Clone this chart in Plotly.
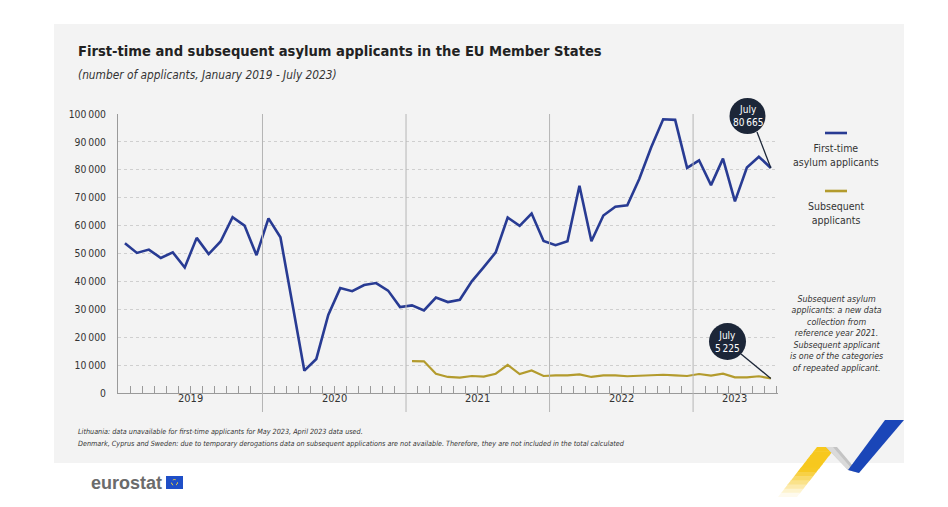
import plotly.graph_objects as go

# ---------------- data ----------------
first_time = [53700, 50200, 51400, 48400, 50400, 45000, 55600, 49800, 54300, 63000, 60000, 49400,
              62600, 55800, 32000, 8000, 12200, 28000, 37600, 36500, 38700, 39400, 36700, 30800,
              31400, 29600, 34200, 32600, 33400, 40000, 45100, 50400, 62900, 59900, 64300, 54500,
              53000, 54400, 74300, 54400, 63600, 66800, 67300, 76700, 88100, 98100, 97900, 80700,
              83400, 74500, 84000, 68700, 80800, 84700, 80665]
subsequent = [None] * 24 + [11450, 11350, 6900, 5750, 5500, 6100, 5850, 6900, 10100, 6800, 8100, 6100,
                            6300, 6300, 6700, 5750, 6300, 6300, 6000, 6200, 6550, 6550, 6300, 6100,
                            6800, 6200, 6900, 5600, 5600, 6000, 5225]
years = ["2019", "2020", "2021", "2022", "2023"]
year_centers = [5.5, 17.5, 29.5, 41.5, 51]
year_bounds = [11.5, 23.5, 35.5, 47.5]
y_ticks = list(range(0, 100001, 10000))
y_tick_text = ["0"] + [f"{v//1000}\u2009000" for v in y_ticks[1:]]

x_idx = list(range(len(first_time)))

# ---------------- geometry helpers (reference pixel coords) ----------------
OFF = 8                      # page body margin
W, H = 948 - OFF, 507 - OFF
L, R, T, B = 118, 778, 114, 393
XMIN, XMAX = -0.58, 54.6

def pxp(px):
    return (px - L) / (R - L)

def pyp(py):
    return (B - py) / (B - T)

def px2x(px):
    return XMIN + (px - L) / (R - L) * (XMAX - XMIN)

def py2y(py):
    return (B - py) / (B - T) * 100000

def path(points):
    return "M " + " L ".join(f"{pxp(a):.5f},{pyp(b):.5f}" for a, b in points) + " Z"

FONT = "DejaVu Sans Condensed, Roboto, sans-serif"
BLUE = "#283b93"
GOLD = "#b39b2d"
DARK = "#1c2638"

fig = go.Figure()
fig.add_trace(go.Scatter(x=x_idx, y=first_time, mode="lines", line=dict(color=BLUE, width=2.6),
                         name="First-time asylum applicants", hoverinfo="skip"))
fig.add_trace(go.Scatter(x=x_idx, y=subsequent, mode="lines", line=dict(color=GOLD, width=2.2),
                         name="Subsequent applicants", hoverinfo="skip"))

shapes = []
shapes.append(dict(type="rect", xref="paper", yref="paper", x0=pxp(54), x1=pxp(904), y0=pyp(463), y1=pyp(24),
                   fillcolor="#f3f3f3", line=dict(width=0), layer="below"))
for xb in year_bounds:
    shapes.append(dict(type="line", xref="x", yref="paper", x0=xb, x1=xb, y0=pyp(412), y1=1,
                       line=dict(color="#b5b5b5", width=1)))

def callout(cx, cy, r, sx, sy, xi, yv):
    shapes.append(dict(type="line", xref="x", yref="y", x0=px2x(sx), y0=py2y(sy), x1=xi, y1=yv,
                       line=dict(color=DARK, width=1.3)))
    shapes.append(dict(type="circle", xref="paper", yref="paper",
                       x0=pxp(cx - r), x1=pxp(cx + r), y0=pyp(cy + r), y1=pyp(cy - r),
                       fillcolor=DARK, line=dict(width=0)))

callout(747.5, 116, 18, 757, 132, 54, first_time[-1])
callout(727.5, 341.5, 18.5, 741, 354, 54, subsequent[-1])

shapes.append(dict(type="line", xref="paper", yref="paper", x0=pxp(825), x1=pxp(847), y0=pyp(133), y1=pyp(133),
                   line=dict(color=BLUE, width=2.6)))
shapes.append(dict(type="line", xref="paper", yref="paper", x0=pxp(825), x1=pxp(847), y0=pyp(191), y1=pyp(191),
                   line=dict(color=GOLD, width=2.6)))

# ribbon decoration (bottom right)
n = 12
for i in range(n):
    t0, t1 = i / n, min(1.0, (i + 1) / n + 0.012)
    ya, yb = 447 + 50 * t0, 447 + 50 * t1
    xa, xb_ = 817 - 39 * t0, 817 - 39 * t1
    tm = (t0 + t1) / 2
    op = 1.0 if tm <= 0.45 else max(0.04, 1 - (tm - 0.45) / 0.55)
    r_, g_, b_ = 247, 200, 30
    # blend toward white instead of transparency to avoid seams
    cr = int(255 - (255 - r_) * op); cg = int(255 - (255 - g_) * op); cb = int(255 - (255 - b_) * op)
    shapes.append(dict(type="path", xref="paper", yref="paper",
                       path=path([(xa, ya), (xa + 19, ya), (xb_ + 19, yb), (xb_, yb)]),
                       fillcolor=f"rgb({cr},{cg},{cb})", line=dict(width=0)))
shapes.append(dict(type="path", xref="paper", yref="paper",
                   path=path([(826, 447), (837, 447), (859, 473), (848, 470)]),
                   fillcolor="#c4c4c4", line=dict(width=0)))
shapes.append(dict(type="path", xref="paper", yref="paper",
                   path=path([(826, 447), (833, 447), (852, 469), (848, 470)]),
                   fillcolor="#dadada", line=dict(width=0)))
shapes.append(dict(type="path", xref="paper", yref="paper",
                   path=path([(848, 470), (859, 473), (904, 420), (885, 420)]),
                   fillcolor="#1a46b8", line=dict(width=0)))

shapes.append(dict(type="rect", xref="paper", yref="paper", x0=pxp(166), x1=pxp(183), y0=pyp(489), y1=pyp(476),
                   fillcolor="#1f4fc7", line=dict(width=0)))
shapes.append(dict(type="circle", xref="paper", yref="paper", x0=pxp(171.5), x1=pxp(177.5), y0=pyp(485.5), y1=pyp(479.5),
                   fillcolor="rgba(0,0,0,0)", line=dict(color="#f5d33a", width=1, dash="dot")))

ann = []
def text(px, py, s, size=12, color="#333333", xanchor="left", italic=False, bold=False, align="left"):
    ann.append(dict(xref="paper", yref="paper", x=pxp(px), y=pyp(py), text=s, showarrow=False,
                    xanchor=xanchor, yanchor="middle", align=align,
                    font=dict(family=FONT, size=size, color=color,
                              style="italic" if italic else "normal", weight="bold" if bold else "normal")))

text(76, 50, "First-time and subsequent asylum applicants in the EU Member States", size=14.6, color="#222222", bold=True)
text(76, 75, "(number of applicants, January 2019 - July 2023)", size=11.8, color="#333333", italic=True)

for yr, c in zip(years, year_centers):
    ann.append(dict(xref="x", yref="paper", x=c, y=pyp(407), text=yr, showarrow=False,
                    font=dict(family=FONT, size=11, color="#333333")))

text(836, 155, "First-time<br>asylum applicants", size=10.5, xanchor="center", align="center")
text(836, 213, "Subsequent<br>applicants", size=10.5, xanchor="center", align="center")
text(836, 333, "Subsequent asylum<br>applicants: a new data<br>collection from<br>reference year 2021.<br>"
     "Subsequent applicant<br>is one of the categories<br>of repeated applicant.",
     size=8.8, xanchor="center", align="center", italic=True)

text(747.5, 116, "July<br>80\u2009665", size=10, color="white", xanchor="center", align="center")
text(727.5, 341.5, "July<br>5\u2009225", size=10, color="white", xanchor="center", align="center")

text(76, 432, "Lithuania: data unavailable for first-time applicants for May 2023, April 2023 data used.",
     size=7.2, italic=True)
text(76, 443, "Denmark, Cyprus and Sweden: due to temporary derogations data on subsequent applications are not "
     "available. Therefore, they are not included in the total calculated", size=7.2, italic=True)

ann.append(dict(xref="paper", yref="paper", x=pxp(89), y=pyp(483), text="eurostat", showarrow=False,
                xanchor="left", yanchor="middle",
                font=dict(family="Liberation Sans, Arial, sans-serif", size=18, color="#6b6b6b", weight="bold")))

tickvals = [k + 0.5 for k in range(0, 55) if (k + 0.5) not in year_bounds]

fig.update_layout(
    width=W, height=H,
    margin=dict(l=L - OFF, r=W - (R - OFF), t=T - OFF, b=H - (B - OFF)),
    paper_bgcolor="white", plot_bgcolor="rgba(0,0,0,0)",
    showlegend=False,
    shapes=shapes, annotations=ann,
    xaxis=dict(range=[XMIN, XMAX], showgrid=False, zeroline=False, showline=True, linecolor="#9a9a9a",
               linewidth=1, tickvals=tickvals, ticktext=[""] * len(tickvals), ticks="inside",
               ticklen=7, tickcolor="#9a9a9a", tickwidth=1, fixedrange=True),
    yaxis=dict(range=[0, 100000], tickvals=y_ticks, ticktext=y_tick_text, showgrid=True,
               gridcolor="#cfcfcf", griddash="dot", gridwidth=1, zeroline=False, showline=True,
               linecolor="#9a9a9a", linewidth=1, ticks="", ticklabelstandoff=9,
               tickfont=dict(family=FONT, size=10.3, color="#333333"), fixedrange=True),
)

fig.write_html("out.html")
